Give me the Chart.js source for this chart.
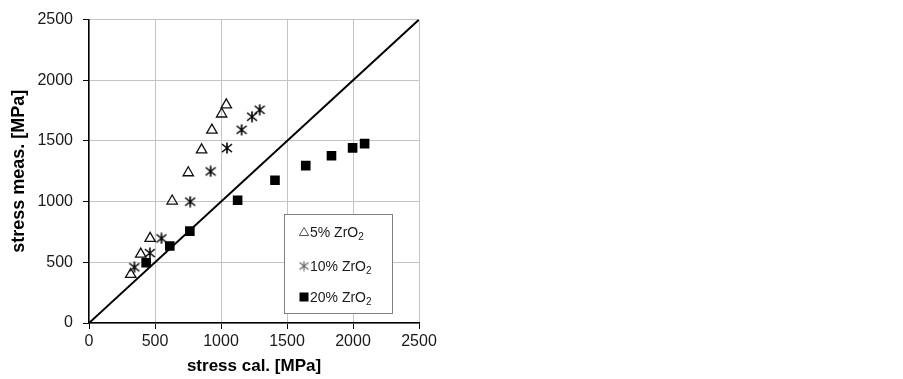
<!DOCTYPE html>
<html>
<head>
<meta charset="utf-8">
<script src="https://cdn.jsdelivr.net/npm/chart.js@4/dist/chart.umd.min.js"></script>
<style>
  html, body { margin: 0; padding: 0; background: #fff; }
  #wrap { width: 903px; height: 379px; position: relative; }
</style>
</head>
<body>
<div id="wrap"><canvas id="grafico"></canvas></div>
<script>
// stress cal. (x) / stress meas. (y), MPa
var calc5 = [316, 392, 463, 630, 752, 853, 931, 1005, 1040];
var meas5 = [400, 568, 697, 1005, 1238, 1427, 1589, 1722, 1797];

var calc10 = [344, 461, 549, 767, 921, 1045, 1156, 1235, 1293];
var meas10 = [459, 576, 697, 1000, 1249, 1441, 1592, 1700, 1757];

var calc20 = [433, 612, 764, 1126, 1409, 1642, 1837, 1997, 2088];
var meas20 = [497, 635, 757, 1011, 1176, 1297, 1378, 1443, 1478];

var diagonal = [0, 2500];
var tickValues = [0, 500, 1000, 1500, 2000, 2500];
var legendNames = ["5% ZrO", "10% ZrO", "20% ZrO"];

function pares(xs, ys) {
    var out = [];
    for (let i = 0; i < xs.length; i++) {
        out.push({ x: xs[i], y: ys[i] });
    }
    return out;
}

// asterisk marker (vertical bar + X), like the Excel one
function asterisco(size, cor, lw) {
    var c = document.createElement("canvas");
    c.width = size;
    c.height = size;
    var g = c.getContext("2d");
    g.strokeStyle = cor;
    g.lineWidth = lw;
    var m = size / 2;
    g.beginPath();
    g.moveTo(m, 0.5); g.lineTo(m, size - 0.5);
    g.moveTo(1, 2); g.lineTo(size - 1, size - 2);
    g.moveTo(1, size - 2); g.lineTo(size - 1, 2);
    g.stroke();
    return c;
}
var star = asterisco(12, "#000", 1.6);

var FONT = "'Liberation Sans', Arial, sans-serif";

var legendaBox = {
    id: "legendaBox",
    afterDraw(chart) {
        var ctx = chart.ctx;
        ctx.save();
        var x0 = 284.5, y0 = 214.5, w = 108, h = 99;
        ctx.fillStyle = "#fff";
        ctx.fillRect(x0, y0, w, h);
        ctx.strokeStyle = "#808080";
        ctx.lineWidth = 1;
        ctx.strokeRect(x0, y0, w, h);

        var linhas = [232, 266, 297];
        ctx.textBaseline = "middle";
        for (let i = 0; i < legendNames.length; i++) {
            var yy = linhas[i];
            var sx = 304;
            if (i === 0) {
                ctx.beginPath();
                ctx.moveTo(sx, yy - 4.5);
                ctx.lineTo(sx + 4.7, yy + 3.5);
                ctx.lineTo(sx - 4.7, yy + 3.5);
                ctx.closePath();
                ctx.strokeStyle = "#555";
                ctx.lineWidth = 1;
                ctx.stroke();
            } else if (i === 1) {
                ctx.drawImage(asterisco(11, "#666", 1.2), sx - 5.5, yy - 5.5);
            } else {
                ctx.fillStyle = "#000";
                ctx.fillRect(sx - 4.5, yy - 4.5, 9, 9);
            }
            ctx.fillStyle = "#1a1a1a";
            ctx.font = "14px " + FONT;
            ctx.fillText(legendNames[i], 310, yy + 1);
            var tw = ctx.measureText(legendNames[i]).width;
            ctx.font = "10px " + FONT;
            ctx.fillText("2", 310 + tw, yy + 5);
        }
        ctx.restore();
    }
};

new Chart(document.getElementById("grafico").getContext("2d"), {
    type: "scatter",
    data: {
        datasets: [
            {
                label: "diagonal",
                data: pares(diagonal, diagonal),
                showLine: true,
                borderColor: "#000",
                borderWidth: 2,
                pointRadius: 0,
                order: 4
            },
            {
                label: legendNames[0] + "2",
                data: pares(calc5, meas5),
                pointStyle: "triangle",
                pointRadius: 6,
                backgroundColor: "rgba(255,255,255,0)",
                borderColor: "#111",
                borderWidth: 1.3
            },
            {
                label: legendNames[1] + "2",
                data: pares(calc10, meas10),
                pointStyle: star,
                pointRadius: 6,
                backgroundColor: "#000",
                borderColor: "#000"
            },
            {
                label: legendNames[2] + "2",
                data: pares(calc20, meas20),
                pointStyle: "rect",
                pointRadius: 6.8,
                backgroundColor: "#000",
                borderColor: "#000",
                borderWidth: 0
            }
        ]
    },
    options: {
        responsive: true,
        maintainAspectRatio: false,
        animation: false,
        layout: {
            padding: { left: 0, right: 484, top: 15, bottom: 0 }
        },
        plugins: {
            legend: { display: false },
            tooltip: { enabled: false }
        },
        scales: {
            x: {
                type: "linear",
                min: 0,
                max: 2500,
                afterFit: function (s) { s.height = 56; },
                afterBuildTicks: function (s) { s.ticks = tickValues.map(v => ({ value: v })); },
                ticks: {
                    color: "#1a1a1a",
                    font: { family: FONT, size: 16 },
                    padding: 3,
                    maxRotation: 0,
                    callback: v => String(v)
                },
                grid: { color: "#c4c4c4", tickColor: "#000", tickLength: 6, lineWidth: 1 },
                border: { color: "#000", width: 1.5 },
                title: {
                    display: true,
                    text: "stress cal. [MPa]",
                    color: "#000",
                    font: { family: FONT, size: 17, weight: "bold" },
                    padding: { top: 0, bottom: 2 }
                }
            },
            y: {
                type: "linear",
                min: 0,
                max: 2500,
                afterFit: function (s) { s.width = 89; },
                afterBuildTicks: function (s) { s.ticks = tickValues.map(v => ({ value: v })); },
                ticks: {
                    color: "#1a1a1a",
                    font: { family: FONT, size: 16 },
                    padding: 10,
                    callback: v => String(v)
                },
                grid: { color: "#c4c4c4", tickColor: "#000", tickLength: 6, lineWidth: 1 },
                border: { color: "#000", width: 1.5 },
                title: {
                    display: true,
                    text: "stress meas. [MPa]",
                    color: "#000",
                    font: { family: FONT, size: 18, weight: "bold" },
                    padding: { top: 8, bottom: 0 }
                }
            }
        }
    },
    plugins: [legendaBox]
});
</script>
</body>
</html>
